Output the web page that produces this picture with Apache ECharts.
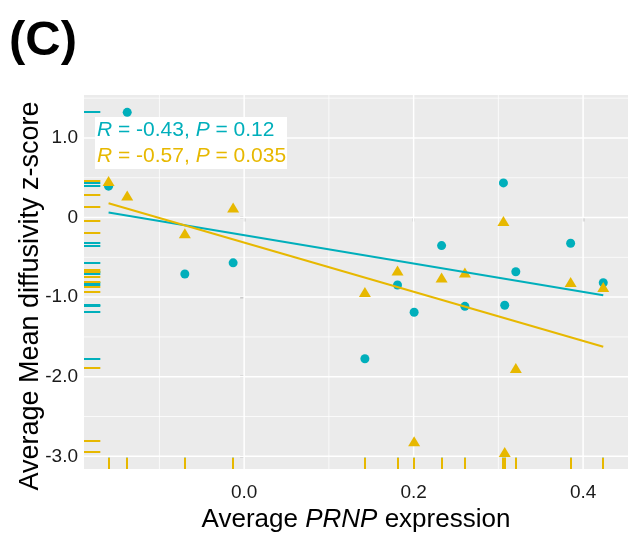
<!DOCTYPE html>
<html><head><meta charset="utf-8">
<script src="https://cdn.jsdelivr.net/npm/echarts@6/dist/echarts.min.js"></script>
<style>html,body{margin:0;padding:0;background:#fff}#c{width:628px;height:536px}</style>
</head><body><div id="c"></div>
<script>
// ---- data ----
const prnp      = [-0.160, -0.138, -0.070, -0.013, 0.1425, 0.181, 0.2006, 0.233, 0.2605, 0.306, 0.3075, 0.3206, 0.3853, 0.4238];
const mdCyan    = [0.394, 1.3225, -0.71, -0.569, -1.774, -0.8475, -1.19, -0.3525, -1.116, 0.435, -1.1025, -0.681, -0.3225, -0.819];
const mdYellow  = [0.46, 0.2775, -0.1975, 0.1275, -0.935, -0.665, -2.81, -0.7525, -0.69, -0.044, -2.945, -1.89, -0.81, -0.8725];
const xTicks      = [0, 0.2, 0.4];
const xMinorTicks = [-0.1, 0.1, 0.3];
const yTicks      = [-3, -2, -1, 0, 1];
const yMinorTicks = [-2.5, -1.5, -0.5, 0.5, 1.5];
const rValues = ['-0.43', '-0.57'];
const pValues = ['0.12', '0.035'];

const CYAN = '#00AFBB', YEL = '#E7B800';
const FONT = '"Liberation Sans", Arial, Helvetica, sans-serif';

function fit(xs, ys) {
  const n = xs.length;
  const mx = xs.reduce((a, b) => a + b, 0) / n, my = ys.reduce((a, b) => a + b, 0) / n;
  let sxy = 0, sxx = 0;
  for (let i = 0; i < n; i++) { sxy += (xs[i] - mx) * (ys[i] - my); sxx += (xs[i] - mx) ** 2; }
  const b = sxy / sxx, a = my - b * mx;
  const x0 = Math.min(...xs), x1 = Math.max(...xs);
  return [[x0, a + b * x0], [x1, a + b * x1]];
}

const gridData = []
  .concat(xTicks.map(v => [v, 0, 0]))
  .concat(xMinorTicks.map(v => [v, 0, 1]))
  .concat(yTicks.map(v => [0, v, 2]))
  .concat(yMinorTicks.map(v => [0, v, 3]));

function rugSeries(ys, color) {
  return {
    type: 'custom', coordinateSystem: 'cartesian2d', z: 4, silent: true,
    data: ys.map((y, i) => [prnp[i], y]), encode: { x: 0, y: 1 },
    renderItem: (params, api) => {
      const cs = params.coordSys;
      const p = api.coord([api.value(0), api.value(1)]);
      const px = Math.round(p[0]), py = Math.round(p[1]);
      const lw = cs.width * 0.03, lh = cs.height * 0.03;
      const st = { stroke: color, lineWidth: 2 };
      return { type: 'group', children: [
        { type: 'line', shape: { x1: cs.x, y1: py, x2: cs.x + lw, y2: py }, style: st },
        { type: 'line', shape: { x1: px, y1: cs.y + cs.height, x2: px, y2: cs.y + cs.height - lh }, style: st }
      ] };
    }
  };
}

const chart = echarts.init(document.getElementById('c'), null, { renderer: 'canvas' });
chart.setOption({
  animation: false,
  textStyle: { fontFamily: FONT },
  title: { text: '(C)', left: 4, top: 12, textStyle: { fontSize: 49, fontWeight: 'bold', color: '#000', fontFamily: FONT } },
  grid: { left: 84, right: 0, top: 95, bottom: 67, show: true, backgroundColor: '#EBEBEB', borderWidth: 0, containLabel: false, outerBoundsMode: 'none' },
  xAxis: {
    type: 'value', min: -0.189, max: 0.453,
    name: 'Average {i|PRNP} expression', nameLocation: 'middle', nameGap: 38, nameMoveOverlap: false,
    nameTextStyle: { fontSize: 26, color: '#000', fontFamily: FONT, rich: { i: { fontStyle: 'italic', fontSize: 26, color: '#000', fontFamily: FONT } } },
    axisLine: { show: false }, splitLine: { show: false },
    axisTick: { show: true, customValues: xTicks, length: 4, lineStyle: { color: '#333', width: 1.2 } },
    axisLabel: { customValues: xTicks, formatter: v => v.toFixed(1), fontSize: 19, color: '#1a1a1a', margin: 14, fontFamily: FONT }
  },
  yAxis: {
    type: 'value', min: -3.16, max: 1.54,
    name: 'Average Mean diffusivity z-score', nameLocation: 'middle', nameGap: 40, nameMoveOverlap: false,
    nameTextStyle: { fontSize: 27, color: '#000', fontFamily: FONT, padding: [0, 28, 0, 0] },
    axisLine: { show: false }, splitLine: { show: false },
    axisTick: { show: true, customValues: yTicks, length: 4, lineStyle: { color: '#333', width: 1.2 } },
    axisLabel: { customValues: yTicks, formatter: v => v === 0 ? '0' : v.toFixed(1), fontSize: 19, color: '#1a1a1a', margin: 6, fontFamily: FONT }
  },
  graphic: [
    { type: 'rect', left: 95, top: 117, shape: { width: 192, height: 52 }, style: { fill: '#fff' }, z: 100 },
    { type: 'text', left: 97, top: 120, z: 101, style: {
      text: '{ci|R}{c| = ' + rValues[0] + ', }{ci|P}{c| = ' + pValues[0] + '}\n{yi|R}{y| = ' + rValues[1] + ', }{yi|P}{y| = ' + pValues[1] + '}',
      rich: {
        c:  { fill: CYAN, fontSize: 21, fontFamily: FONT, lineHeight: 26 },
        ci: { fill: CYAN, fontSize: 21, fontFamily: FONT, fontStyle: 'italic', lineHeight: 26 },
        y:  { fill: YEL, fontSize: 21, fontFamily: FONT, lineHeight: 26 },
        yi: { fill: YEL, fontSize: 21, fontFamily: FONT, fontStyle: 'italic', lineHeight: 26 }
      }
    } }
  ],
  series: [
    {
      type: 'custom', coordinateSystem: 'cartesian2d', z: 1, silent: true,
      data: gridData, encode: { x: 0, y: 1 },
      renderItem: (params, api) => {
        const cs = params.coordSys, kind = api.value(2);
        const p = api.coord([api.value(0), api.value(1)]);
        const w = (kind === 0 || kind === 2) ? 1.5 : 0.75;
        if (kind < 2) return { type: 'line', shape: { x1: p[0], y1: cs.y, x2: p[0], y2: cs.y + cs.height }, style: { stroke: '#fff', lineWidth: w } };
        return { type: 'line', shape: { x1: cs.x, y1: p[1], x2: cs.x + cs.width, y2: p[1] }, style: { stroke: '#fff', lineWidth: w } };
      }
    },
    { type: 'scatter', name: 'A', z: 3, symbol: 'circle', symbolSize: 9, itemStyle: { color: CYAN, opacity: 1 }, data: prnp.map((x, i) => [x, mdCyan[i]]) },
    { type: 'scatter', name: 'B', z: 3, symbol: 'triangle', symbolSize: [12, 10], itemStyle: { color: YEL, opacity: 1 }, data: prnp.map((x, i) => [x, mdYellow[i]]) },
    rugSeries(mdCyan, CYAN),
    rugSeries(mdYellow, YEL),
    { type: 'line', z: 5, showSymbol: false, symbol: 'none', lineStyle: { color: CYAN, width: 2 }, data: fit(prnp, mdCyan) },
    { type: 'line', z: 5, showSymbol: false, symbol: 'none', lineStyle: { color: YEL, width: 2 }, data: fit(prnp, mdYellow) }
  ]
});
</script>
</body></html>
